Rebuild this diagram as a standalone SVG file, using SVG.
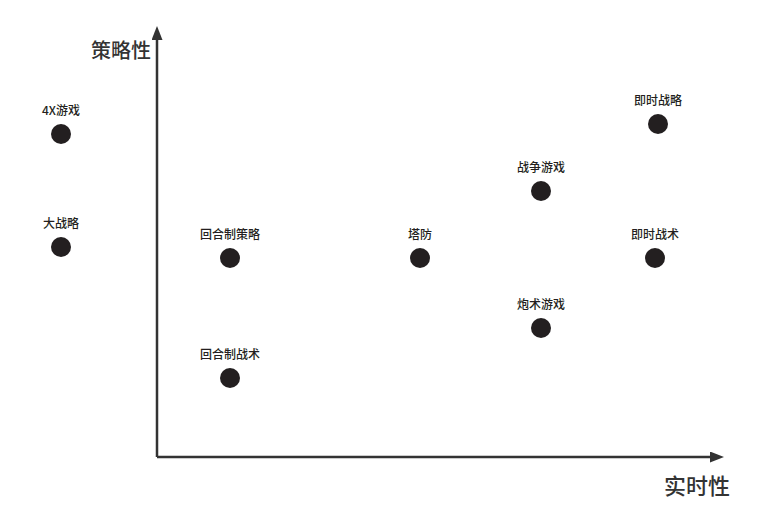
<svg xmlns="http://www.w3.org/2000/svg" width="772" height="531" viewBox="0 0 772 531">
<style>
.lbl{font-family:"Noto Sans CJK SC","Noto Sans",sans-serif;font-size:12px;font-weight:500;fill:#231f20;text-anchor:middle}
.ax{font-family:"Noto Sans CJK SC","Noto Sans",sans-serif;font-size:20px;font-weight:500;fill:#333;text-anchor:middle}
.dot{fill:#231f20}
.axis{stroke:#333;stroke-width:2.5;fill:none}
</style>
<defs>
<marker id="ah" viewBox="0 0 14 11" refX="0" refY="5.5" markerWidth="14" markerHeight="11" markerUnits="userSpaceOnUse" orient="auto">
<path d="M0,0 L14,5.5 L0,11 Z" fill="#333"/>
</marker>
</defs>
<rect width="772" height="531" fill="#fff"/>
<g id="connectors">
<path class="axis" d="M157,457 L157,40" marker-end="url(#ah)"/>
<path class="axis" d="M157,457 L710,457" marker-end="url(#ah)"/>
</g>
<g id="axis-y"><text class="ax" x="121" y="58">策略性</text></g>
<g id="axis-x"><text class="ax" x="697" y="494" style="font-size:22px">实时性</text></g>
<g id="n-4x"><circle class="dot" cx="61" cy="134" r="10"/><text class="lbl" x="61" y="115">4X游戏</text></g>
<g id="n-grand"><circle class="dot" cx="61" cy="247" r="10"/><text class="lbl" x="61" y="228">大战略</text></g>
<g id="n-tbs"><circle class="dot" cx="230" cy="258" r="10"/><text class="lbl" x="230" y="239">回合制策略</text></g>
<g id="n-td"><circle class="dot" cx="420" cy="258" r="10"/><text class="lbl" x="420" y="239">塔防</text></g>
<g id="n-rtt"><circle class="dot" cx="655" cy="258" r="10"/><text class="lbl" x="655" y="239">即时战术</text></g>
<g id="n-rts"><circle class="dot" cx="658" cy="124" r="10"/><text class="lbl" x="658" y="105">即时战略</text></g>
<g id="n-war"><circle class="dot" cx="541" cy="191" r="10"/><text class="lbl" x="541" y="172">战争游戏</text></g>
<g id="n-art"><circle class="dot" cx="541" cy="328" r="10"/><text class="lbl" x="541" y="309">炮术游戏</text></g>
<g id="n-tbt"><circle class="dot" cx="230" cy="378" r="10"/><text class="lbl" x="230" y="359">回合制战术</text></g>
</svg>
